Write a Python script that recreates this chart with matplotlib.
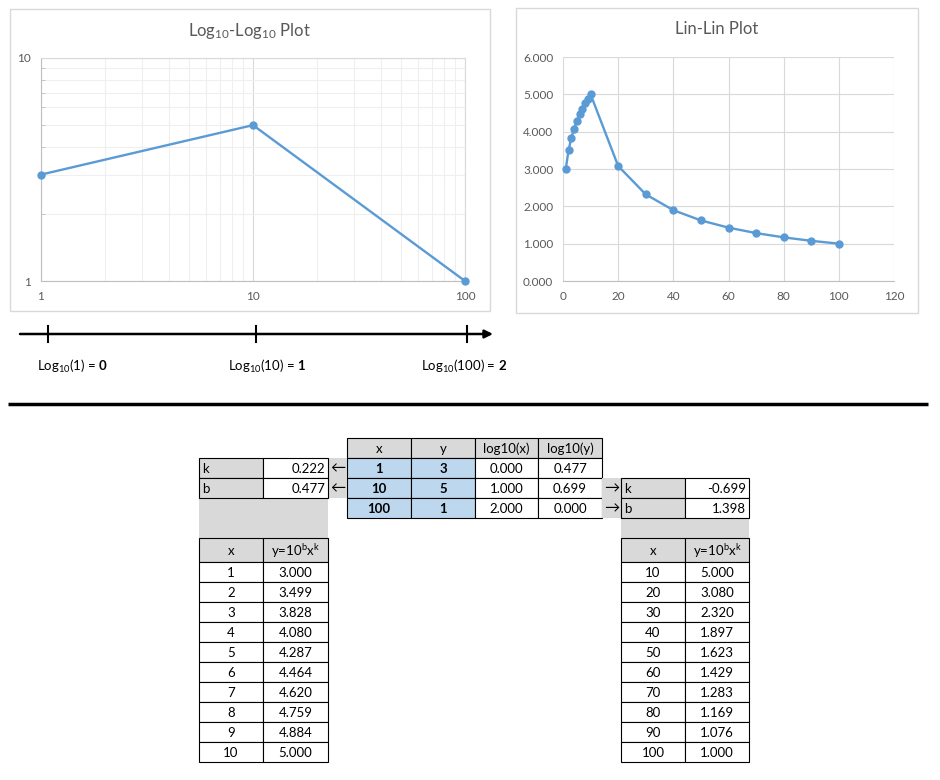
import matplotlib
matplotlib.use("Agg")
import matplotlib.pyplot as plt
from matplotlib.patches import Rectangle
from matplotlib.ticker import FixedLocator, NullFormatter

plt.rcParams['font.family'] = ['Lato', 'DejaVu Sans']
plt.rcParams['mathtext.fontset'] = 'custom'
plt.rcParams['mathtext.rm'] = 'Lato'
plt.rcParams['mathtext.bf'] = 'Lato:bold'
plt.rcParams['mathtext.it'] = 'Lato:italic'

# ---- data ----
pts_x = [1, 10, 100]
pts_y = [3, 5, 1]
pts_logx = ["0.000", "1.000", "2.000"]
pts_logy = ["0.477", "0.699", "0.000"]

left_k, left_b = "0.222", "0.477"
right_k, right_b = "-0.699", "1.398"

fit1_x = [1, 2, 3, 4, 5, 6, 7, 8, 9, 10]
fit1_y = [3.000, 3.499, 3.828, 4.080, 4.287, 4.464, 4.620, 4.759, 4.884, 5.000]
fit2_x = [10, 20, 30, 40, 50, 60, 70, 80, 90, 100]
fit2_y = [5.000, 3.080, 2.320, 1.897, 1.623, 1.429, 1.283, 1.169, 1.076, 1.000]

numline_labels = [r"Log$_{\mathregular{10}}$(1) = $\mathbf{0}$",
                  r"Log$_{\mathregular{10}}$(10) = $\mathbf{1}$",
                  r"Log$_{\mathregular{10}}$(100) = $\mathbf{2}$"]

BLUE = "#5b9bd5"
GREY_TXT = "#595959"
HEAD = "#d9d9d9"
CELLBLUE = "#bdd7ee"
FS = 9.5

W, H = 940, 780
fig = plt.figure(figsize=(W / 100, H / 100), dpi=100)
bg = fig.add_axes([0, 0, 1, 1])
bg.set_xlim(0, W)
bg.set_ylim(H, 0)
bg.axis("off")


def px_axes(x0, y0, x1, y1):
    return fig.add_axes([x0 / W, 1 - y1 / H, (x1 - x0) / W, (y1 - y0) / H])


def cell(x0, y0, x1, y1, text="", fc="white", ha="center", bold=False,
         border=True, color="black"):
    bg.add_patch(Rectangle((x0, y0), x1 - x0, y1 - y0, facecolor=fc,
                           edgecolor="black" if border else "none", lw=0.8))
    if ha == "left":
        tx = x0 + 3
    elif ha == "right":
        tx = x1 - 3
    else:
        tx = (x0 + x1) / 2
    bg.text(tx, (y0 + y1) / 2 + 1, text, ha=ha, va="center", fontsize=FS,
            fontweight="bold" if bold else "normal", color=color)


# ---- chart frames ----
bg.add_patch(Rectangle((10, 9), 480, 302, facecolor="white",
                       edgecolor=HEAD, lw=1))
bg.add_patch(Rectangle((516, 8), 402, 305, facecolor="white",
                       edgecolor=HEAD, lw=1))

# ---- log-log chart ----
ax1 = px_axes(41, 58, 465, 281)
ax1.plot(pts_x, pts_y, color=BLUE, lw=1.7, marker="o", ms=5, clip_on=False,
         zorder=5)
ax1.set_xscale("log")
ax1.set_yscale("log")
ax1.set_xlim(1, 100)
ax1.set_ylim(1, 10)
ax1.xaxis.set_major_locator(FixedLocator([1, 10, 100]))
ax1.yaxis.set_major_locator(FixedLocator([1, 10]))
ax1.set_xticklabels(["1", "10", "100"])
ax1.set_yticklabels(["1", "10"])
minors = [m * d for d in (1, 10) for m in range(2, 10)]
ax1.xaxis.set_minor_locator(FixedLocator(minors))
ax1.yaxis.set_minor_locator(FixedLocator(range(2, 10)))
ax1.xaxis.set_minor_formatter(NullFormatter())
ax1.yaxis.set_minor_formatter(NullFormatter())
ax1.grid(True, which="major", color="#d9d9d9", lw=0.8)
ax1.grid(True, which="minor", color="#efefef", lw=0.8)
ax1.tick_params(which="major", length=0, labelsize=8.5, colors=GREY_TXT,
                pad=7)
ax1.tick_params(axis="y", which="minor", direction="in", length=3,
                color="#bfbfbf")
ax1.tick_params(axis="x", which="minor", length=0)
for s in ax1.spines.values():
    s.set_color("#d9d9d9")
ax1.spines["left"].set_color("#bfbfbf")
ax1.spines["bottom"].set_color("#bfbfbf")
ax1.set_axisbelow(True)
bg.text(249, 31, r"Log$_{\mathregular{10}}$-Log$_{\mathregular{10}}$ Plot",
        ha="center", va="center", fontsize=12, color=GREY_TXT)

# ---- lin-lin chart ----
ax2 = px_axes(563, 57, 894, 281)
lin_x = fit1_x + fit2_x[1:]
lin_y = fit1_y + fit2_y[1:]
ax2.plot(lin_x, lin_y, color=BLUE, lw=1.7, marker="o", ms=5, clip_on=False,
         zorder=5)
ax2.set_xlim(0, 120)
ax2.set_ylim(0, 6)
ax2.set_xticks(range(0, 121, 20))
ax2.set_yticks(range(0, 7))
ax2.set_yticklabels(["%.3f" % v for v in range(0, 7)])
ax2.grid(True, color="#d9d9d9", lw=0.8)
ax2.tick_params(length=0, labelsize=8.5, colors=GREY_TXT, pad=7)
for s in ax2.spines.values():
    s.set_visible(False)
ax2.spines["bottom"].set_visible(True)
ax2.spines["bottom"].set_color("#bfbfbf")
ax2.set_axisbelow(True)
bg.text(717, 29, "Lin-Lin Plot", ha="center", va="center", fontsize=12,
        color=GREY_TXT)

# ---- number line ----
bg.annotate("", xy=(493, 334), xytext=(20, 334),
            arrowprops=dict(arrowstyle="-|>", color="black", lw=1.8,
                            mutation_scale=12, shrinkA=0, shrinkB=0))
tick_px = [48, 256, 467]
label_px = [37, 228, 421]
for tx, lx, lab in zip(tick_px, label_px, numline_labels):
    bg.plot([tx, tx], [326, 342], color="black", lw=1.5)
    bg.text(lx, 366, lab, ha="left", va="center", fontsize=FS)

bg.plot([8, 928], [404, 404], color="black", lw=2.5, solid_capstyle="butt")

# ---- main table ----
cols = [347, 411, 475, 538, 602]
rows = [438, 458, 478, 498, 518]
for i, h in enumerate(["x", "y", "log10(x)", "log10(y)"]):
    cell(cols[i], rows[0], cols[i + 1], rows[1], h, fc=HEAD)
for r in range(3):
    y0, y1 = rows[r + 1], rows[r + 2]
    cell(cols[0], y0, cols[1], y1, str(pts_x[r]), fc=CELLBLUE, bold=True)
    cell(cols[1], y0, cols[2], y1, str(pts_y[r]), fc=CELLBLUE, bold=True)
    cell(cols[2], y0, cols[3], y1, pts_logx[r])
    cell(cols[3], y0, cols[4], y1, pts_logy[r])

# ---- left k/b ----
lc = [199, 263, 328]
bg.add_patch(Rectangle((328, 458), 19, 40, facecolor=HEAD, edgecolor="none"))
bg.add_patch(Rectangle((199, 498), 129, 40, facecolor=HEAD, edgecolor="none"))
for r, (name, val) in enumerate([("k", left_k), ("b", left_b)]):
    y0 = 458 + 20 * r
    cell(lc[0], y0, lc[1], y0 + 20, name, fc=HEAD, ha="left")
    cell(lc[1], y0, lc[2], y0 + 20, val, ha="right")
    bg.text(337.5, y0 + 10, "\u2190", ha="center", va="center", fontsize=11)

# ---- right k/b ----
rc = [621, 685, 749]
bg.add_patch(Rectangle((602, 478), 19, 40, facecolor=HEAD, edgecolor="none"))
bg.add_patch(Rectangle((621, 518), 128, 20, facecolor=HEAD, edgecolor="none"))
for r, (name, val) in enumerate([("k", right_k), ("b", right_b)]):
    y0 = 478 + 20 * r
    cell(rc[0], y0, rc[1], y0 + 20, name, fc=HEAD, ha="left")
    cell(rc[1], y0, rc[2], y0 + 20, val, ha="right")
    bg.text(611.5, y0 + 10, "\u2192", ha="center", va="center", fontsize=11)

# ---- fit tables ----
fit_head = r"y=10$^{\mathregular{b}}$x$^{\mathregular{k}}$"
for c, xs, ys in [(lc, fit1_x, fit1_y), (rc, fit2_x, fit2_y)]:
    cell(c[0], 538, c[1], 562, "x", fc=HEAD)
    cell(c[1], 538, c[2], 562, fit_head, fc=HEAD)
    for r, (xv, yv) in enumerate(zip(xs, ys)):
        y0 = 562 + 20 * r
        cell(c[0], y0, c[1], y0 + 20, str(xv))
        cell(c[1], y0, c[2], y0 + 20, "%.3f" % yv)

fig.savefig("out.png", dpi=100)
